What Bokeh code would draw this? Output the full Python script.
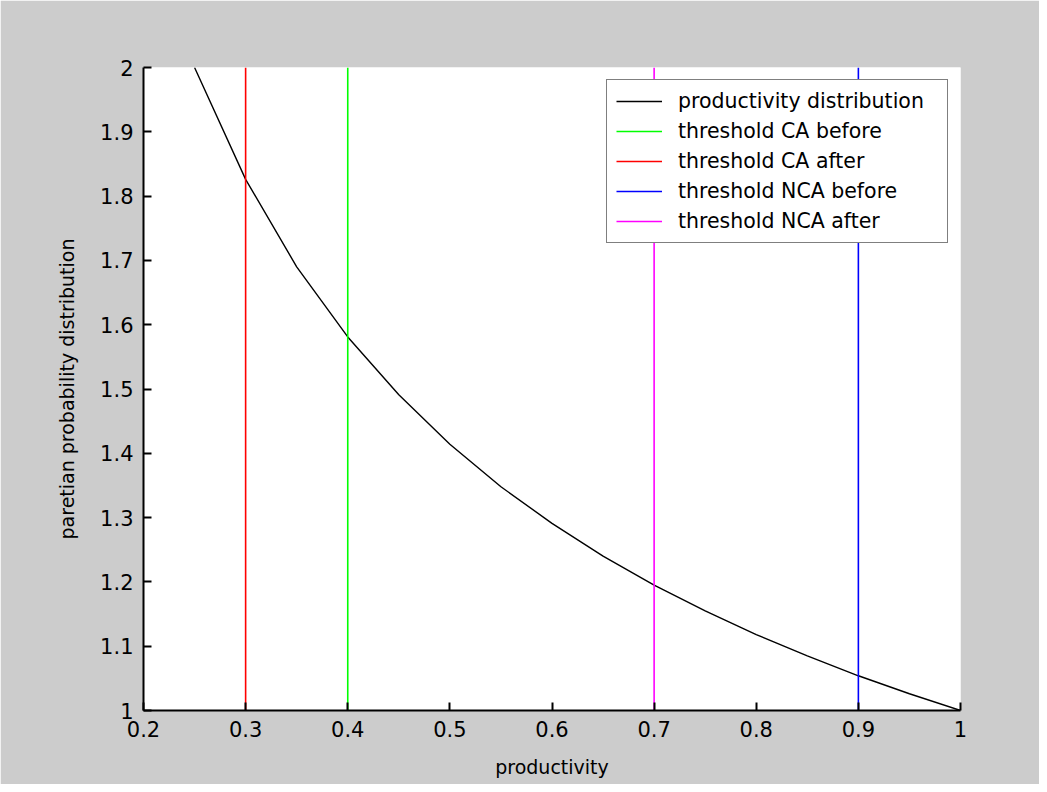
from bokeh.plotting import figure
from bokeh.models import Range1d, FixedTicker, CustomJSTickFormatter, Legend, LegendItem
from bokeh.embed import file_html
from bokeh.resources import INLINE

# Data
prod_x = [0.25, 0.30, 0.35, 0.40, 0.45, 0.50, 0.55, 0.60, 0.65, 0.70, 0.75, 0.80, 0.85, 0.90, 0.95, 1.00]
prod_y = [2.000, 1.826, 1.690, 1.581, 1.491, 1.414, 1.348, 1.291, 1.240, 1.195, 1.155, 1.118, 1.085, 1.054, 1.026, 1.000]

threshold_names = ["threshold CA before", "threshold CA after", "threshold NCA before", "threshold NCA after"]
threshold_x = [0.4, 0.3, 0.9, 0.7]
threshold_colors = ["#00ff00", "#ff0000", "#0000ff", "#ff00ff"]
threshold_span = [1.0, 2.0]

x_ticks = [0.2, 0.3, 0.4, 0.5, 0.6, 0.7, 0.8, 0.9, 1.0]
y_ticks = [1.0, 1.1, 1.2, 1.3, 1.4, 1.5, 1.6, 1.7, 1.8, 1.9, 2.0]

FONT = "DejaVu Sans"

p = figure(width=1039, height=784, output_backend="svg", toolbar_location=None,
           x_range=Range1d(0.2, 1.0), y_range=Range1d(1.0, 2.0),
           min_border_left=143, min_border_right=79, min_border_top=67, min_border_bottom=74)
p.border_fill_color = "#cccccc"
p.background_fill_color = "white"
p.outline_line_color = None
p.grid.visible = False

items = []
r = p.line(prod_x, prod_y, line_color="black", line_width=1.4)
items.append(LegendItem(label="productivity distribution", renderers=[r]))
for name, xv, col in zip(threshold_names, threshold_x, threshold_colors):
    rr = p.line([xv, xv], threshold_span, line_color=col, line_width=1.6)
    items.append(LegendItem(label=name, renderers=[rr]))

fmt = CustomJSTickFormatter(code="return parseFloat(tick.toFixed(1)).toString();")
for ax, ticks in ((p.xaxis[0], x_ticks), (p.yaxis[0], y_ticks)):
    ax.ticker = FixedTicker(ticks=ticks)
    ax.formatter = fmt
    ax.axis_line_color = "black"
    ax.axis_line_width = 2
    ax.major_tick_line_color = "black"
    ax.major_tick_line_width = 2
    ax.major_tick_in = 8
    ax.major_tick_out = 0
    ax.minor_tick_line_color = None
    ax.major_label_text_font = FONT
    ax.major_label_text_font_size = "21px"
    ax.major_label_text_color = "black"
    ax.axis_label_text_font = FONT
    ax.axis_label_text_font_size = "19px"
    ax.axis_label_text_font_style = "normal"
    ax.axis_label_text_color = "black"

p.xaxis.axis_label = "productivity"
p.yaxis.axis_label = "paretian probability distribution"
p.xaxis.major_label_standoff = 10
p.xaxis.axis_label_standoff = 16
p.yaxis.major_label_standoff = 10
p.yaxis.axis_label_standoff = 19

legend = Legend(items=items, location="top_right")
legend.margin = 12
legend.padding = 9
legend.spacing = 6
legend.glyph_width = 46
legend.glyph_height = 20
legend.label_height = 20
legend.label_width = 260
legend.label_standoff = 16
legend.label_text_font = FONT
legend.label_text_font_size = "20.5px"
legend.label_text_color = "black"
legend.border_line_color = "black"
legend.border_line_width = 1.5
legend.background_fill_color = "white"
legend.background_fill_alpha = 1.0
p.add_layout(legend)

open("out.html", "w").write(file_html(p, INLINE))
